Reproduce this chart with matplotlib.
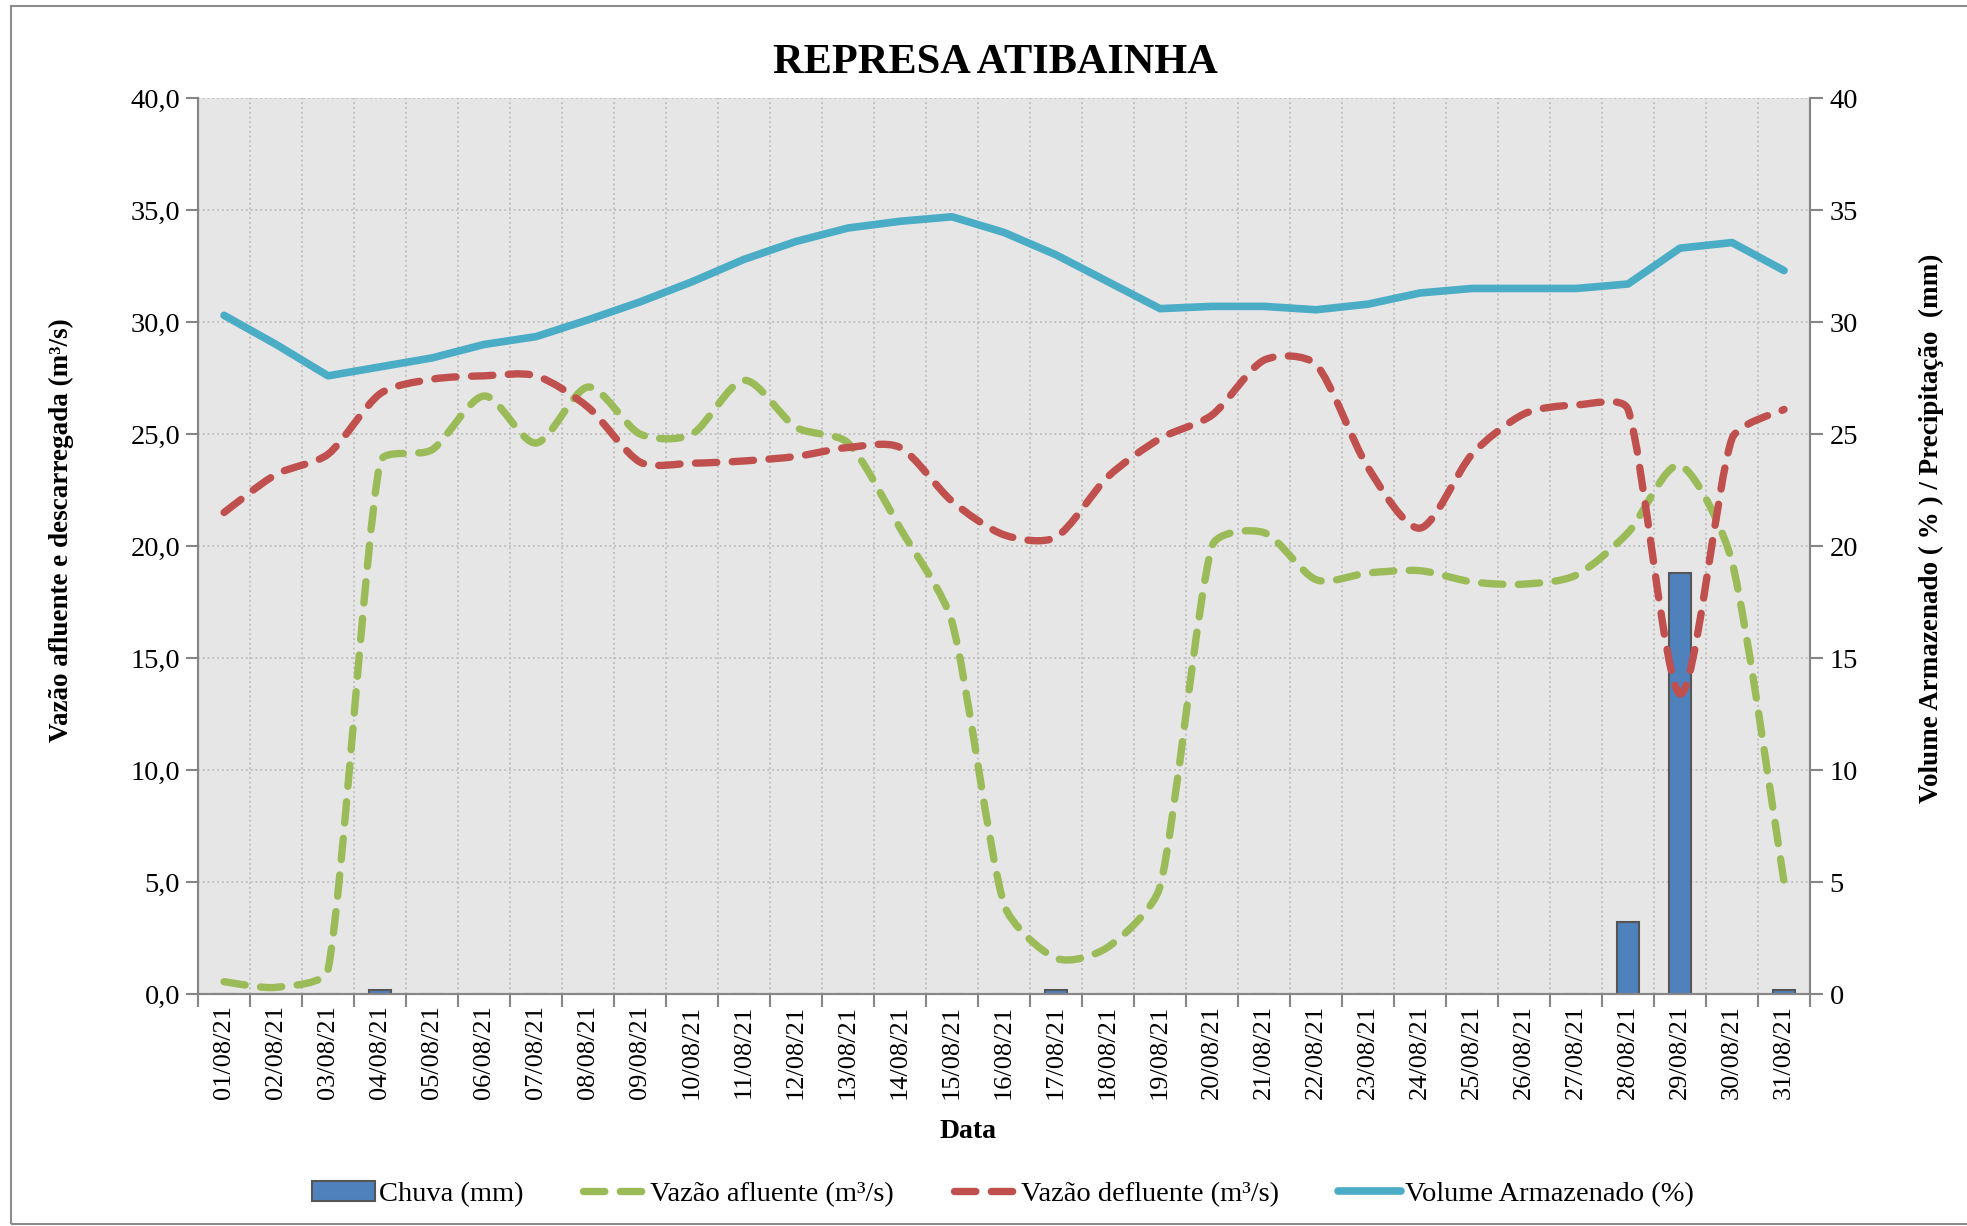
import matplotlib
matplotlib.use('Agg')
import matplotlib.pyplot as plt
import numpy as np
from matplotlib.path import Path
from matplotlib.patches import PathPatch, Rectangle, Patch
from matplotlib.lines import Line2D
from matplotlib.ticker import FuncFormatter

plt.rcParams['font.family'] = ['Liberation Serif', 'DejaVu Serif']

dias = ['%02d/08/21' % d for d in range(1, 32)]
chuva = [0, 0, 0, 0.2, 0, 0, 0, 0, 0, 0, 0, 0, 0, 0, 0, 0,
         0.2, 0, 0, 0, 0, 0, 0, 0, 0, 0, 0, 3.2, 18.8, 0, 0.2]
afluente = [0.55, 0.3, 1.1, 23.75, 24.3, 26.7, 24.6, 27.1, 25.0, 25.0, 27.4,
            25.3, 24.6, 20.8, 16.6, 4.0, 1.6, 2.1, 4.8, 20.0, 20.6, 18.5,
            18.8, 18.9, 18.4, 18.3, 18.7, 20.6, 23.6, 19.3, 5.0]
defluente = [21.5, 23.2, 24.1, 26.8, 27.45, 27.6, 27.6, 26.2, 23.75, 23.7, 23.8,
             24.0, 24.4, 24.4, 22.0, 20.5, 20.4, 23.1, 24.8, 25.85, 28.3, 28.1,
             23.5, 20.8, 24.1, 25.9, 26.3, 26.1, 13.4, 24.8, 26.1]
volume = [30.3, 29.0, 27.6, 28.0, 28.4, 29.0, 29.35, 30.1, 30.9, 31.8, 32.8,
          33.6, 34.2, 34.5, 34.7, 34.0, 33.0, 31.8, 30.6, 30.7, 30.7, 30.55,
          30.8, 31.3, 31.5, 31.5, 31.5, 31.7, 33.3, 33.55, 32.3]

c_bar = '#4F81BD'
c_green = '#9BBB59'
c_red = '#C0504D'
c_blue = '#4BACC6'
c_axis = '#868686'

W, H = 19.67, 12.26
ax_rect = [0.1007, 0.1892, 0.8195, 0.7308]
# proporcao px por unidade em x e em y (para suavizar como na tela)
aspect = (ax_rect[2] * W / len(dias)) / (ax_rect[3] * H / 40)


def smooth_path(xs, ys, k=1 / 7, lim=0.28):
    # linha suavizada estilo Excel: catmull-rom, com controles
    # limitados a uma fracao do comprimento de cada segmento
    p = np.column_stack([np.array(xs, float) * aspect, np.array(ys, float)])
    n = len(p)
    m = [(p[min(i + 1, n - 1)] - p[max(i - 1, 0)]) * k for i in range(n)]
    verts = [p[0]]
    codes = [Path.MOVETO]
    for i in range(n - 1):
        L = np.hypot(*(p[i + 1] - p[i]))
        a, b = m[i], m[i + 1]
        a = a * min(1, lim * L / max(np.hypot(*a), 1e-9))
        b = b * min(1, lim * L / max(np.hypot(*b), 1e-9))
        verts += [p[i] + a, p[i + 1] - b, p[i + 1]]
        codes += [Path.CURVE4] * 3
    verts = np.array(verts)
    verts[:, 0] /= aspect
    return Path(verts, codes)


x = list(range(len(dias)))
dash = (0, (2.9, 2.1))

fig = plt.figure(figsize=(W, H), dpi=100)
ax = fig.add_axes(ax_rect)
ax2 = ax.twinx()
ax.set_zorder(2)
ax2.set_zorder(1)
ax.patch.set_visible(False)
ax2.patch.set_visible(True)
ax2.patch.set_facecolor('#E6E6E6')

# eixo direito: chuva e volume
ax2.bar(x, chuva, width=0.41, color=c_bar, edgecolor='#555555', linewidth=1.5, zorder=2)
ax2.plot(x, volume, color=c_blue, lw=5.5, solid_capstyle='round', solid_joinstyle='round', zorder=3)

# eixo esquerdo: vazoes
ax.add_patch(PathPatch(smooth_path(x, afluente), fill=False, edgecolor=c_green, lw=5.3,
                       linestyle=dash, capstyle='round', joinstyle='round'))
ax.add_patch(PathPatch(smooth_path(x, defluente), fill=False, edgecolor=c_red, lw=5.3,
                       linestyle=dash, capstyle='round', joinstyle='round'))

for a in (ax, ax2):
    a.set_xlim(-0.5, len(dias) - 0.5)
    a.set_ylim(0, 40)
    a.set_yticks(range(0, 41, 5))
    for s in a.spines.values():
        s.set_color(c_axis)
        s.set_linewidth(1.5)
    a.spines['top'].set_visible(False)

ax.yaxis.set_major_formatter(FuncFormatter(lambda v, p: ('%.1f' % v).replace('.', ',')))
ax.set_xticks(x)
ax.set_xticklabels(dias, rotation=90)
ax.set_xticks([i - 0.5 for i in range(len(dias) + 1)], minor=True)
ax.tick_params(axis='x', which='major', length=0, labelsize=19, pad=8)
ax.tick_params(axis='x', which='minor', length=9, width=1.5, color=c_axis)
ax.tick_params(axis='y', length=9, width=1.5, color=c_axis, labelsize=20.5, pad=4)
ax2.tick_params(axis='y', length=9, width=1.5, color=c_axis, labelsize=20.5, pad=5)

# grade pontilhada no eixo de fundo
ax2.xaxis.set_visible(True)
ax2.tick_params(axis='x', which='both', bottom=False, top=False, labelbottom=False, labeltop=False)
ax2.set_axisbelow(True)
ax2.grid(axis='y', which='major', linestyle=':', color='#BDBDBD', lw=1.3)
ax2.grid(axis='x', which='minor', linestyle=':', color='#BDBDBD', lw=1.3)

fig.text(0.506, 0.949, 'REPRESA ATIBAINHA', ha='center', va='center', fontsize=30.5, fontweight='bold')
fig.text(0.031, 0.568, 'Vazão afluente e descarregada (m³/s)', rotation=90, ha='center', va='center',
         fontsize=19.5, fontweight='bold')
fig.text(0.982, 0.569, 'Volume Armazenado ( % ) / Precipitação  (mm)', rotation=90, ha='center',
         va='center', fontsize=19.5, fontweight='bold')
fig.text(0.492, 0.0767, 'Data', ha='center', va='center', fontsize=20, fontweight='bold')

handles = [Patch(facecolor=c_bar, edgecolor='#555555', linewidth=1.5),
           Line2D([], [], color=c_green, lw=5.3, linestyle=dash, dash_capstyle='round'),
           Line2D([], [], color=c_red, lw=5.3, linestyle=dash, dash_capstyle='round'),
           Line2D([], [], color=c_blue, lw=5.5, solid_capstyle='round')]
labels = ['Chuva (mm)', 'Vazão afluente (m³/s)', 'Vazão defluente (m³/s)', 'Volume Armazenado (%)']
fig.legend(handles, labels, loc='center', bbox_to_anchor=(0.51, 0.026), ncol=4, frameon=False,
           fontsize=20.5, handlelength=2.2, handletextpad=0.15, columnspacing=2.1)

fig.add_artist(Rectangle((0.0054, 0.002), 1.0, 0.993, transform=fig.transFigure, fill=False,
                         edgecolor='#8C8C8C', lw=1.5))

plt.savefig('out.png', dpi=100)
